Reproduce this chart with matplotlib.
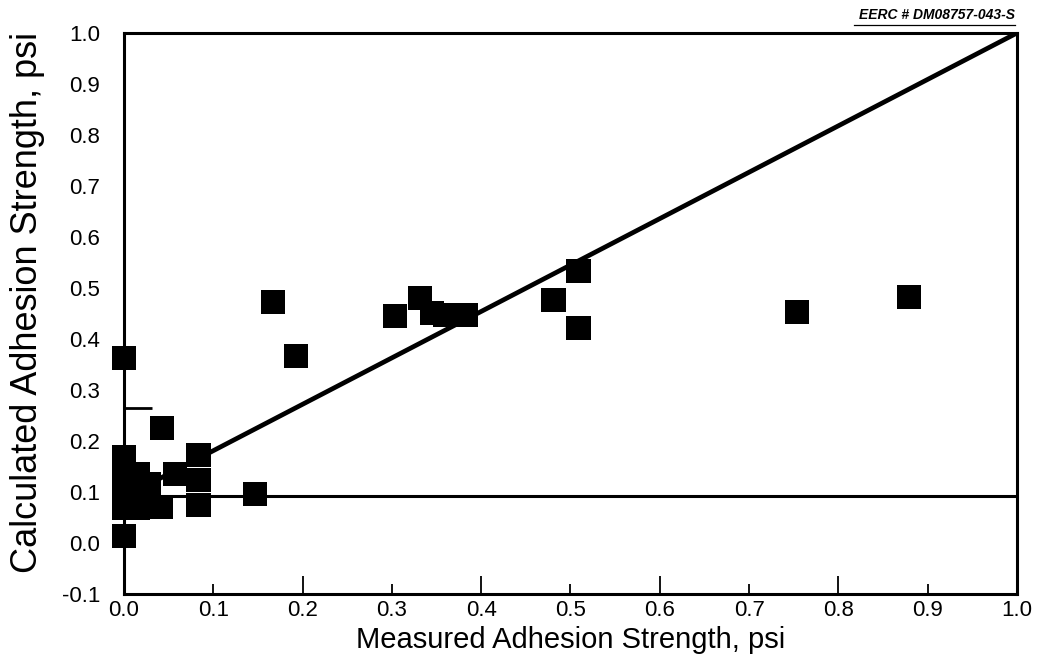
import numpy as np
import matplotlib
matplotlib.use('Agg')
import matplotlib.pyplot as plt
from matplotlib.ticker import FixedLocator, FormatStrFormatter, MultipleLocator, NullFormatter
from matplotlib.lines import Line2D

plt.rcParams['font.family'] = ['Liberation Sans', 'DejaVu Sans']

measured = [0.0, 0.0, 0.043, 0.0, 0.0, 0.0, 0.0, 0.0,
            0.016, 0.016, 0.016, 0.028, 0.028, 0.041, 0.057,
            0.0835, 0.0835, 0.0835, 0.147, 0.167, 0.193,
            0.304, 0.331, 0.345, 0.359, 0.383, 0.481, 0.509, 0.509,
            0.754, 0.879]
calculated = [0.014, 0.363, 0.225, 0.169, 0.145, 0.12, 0.095, 0.069,
              0.135, 0.1, 0.069, 0.116, 0.085, 0.07, 0.135,
              0.173, 0.124, 0.075, 0.096, 0.473, 0.367,
              0.445, 0.480, 0.451, 0.447, 0.447, 0.476, 0.533, 0.422,
              0.453, 0.482]

# droites tracées sur la figure
diag_x = [0.0, 1.0]
diag_y = [0.09, 1.0]
horiz_x = [0.0, 1.0]
horiz_y = [0.092, 0.092]

x_major = [0.0, 0.2, 0.4, 0.6, 0.8, 1.0]
x_minor = [0.1, 0.3, 0.5, 0.7, 0.9]
y_stray = [0.265]   # petit trait isolé sur l'axe y

fig = plt.figure(figsize=(10.39, 6.64), dpi=100)
ax = fig.add_axes([0.1193, 0.1054, 0.8595, 0.8449])

ax.plot(diag_x, diag_y, color='black', lw=3.4, zorder=2, solid_capstyle='butt')
ax.plot(horiz_x, horiz_y, color='black', lw=2.2, zorder=2)
ax.scatter(measured, calculated, marker='s', s=300, color='black',
           edgecolors='none', zorder=3, clip_on=False)

ax.set_xlim(0, 1.0)
ax.set_ylim(-0.1, 1.0)

ax.xaxis.set_major_locator(FixedLocator(x_major))
ax.xaxis.set_minor_locator(FixedLocator(x_minor))
ax.xaxis.set_major_formatter(FormatStrFormatter('%.1f'))
ax.xaxis.set_minor_formatter(FormatStrFormatter('%.1f'))
ax.yaxis.set_major_locator(MultipleLocator(0.1))
ax.yaxis.set_major_formatter(FormatStrFormatter('%.1f'))
ax.yaxis.set_minor_locator(FixedLocator(y_stray))
ax.yaxis.set_minor_formatter(NullFormatter())

ax.tick_params(axis='x', which='major', direction='in', length=13, width=1.3, pad=4, labelsize=16)
ax.tick_params(axis='x', which='minor', direction='in', length=7, width=1.3, pad=4, labelsize=16)
ax.tick_params(axis='y', which='major', direction='in', length=0, width=1.3, pad=17, labelsize=16)
ax.tick_params(axis='y', which='minor', direction='in', length=20, width=2)
for s in ax.spines.values():
    s.set_linewidth(2.2)

ax.set_xlabel('Measured Adhesion Strength, psi', fontsize=21, labelpad=4)
ax.set_ylabel('Calculated Adhesion Strength, psi', fontsize=26)
ax.yaxis.set_label_coords(-0.088, 0.52)

fig.text(0.977, 0.967, 'EERC # DM08757-043-S', ha='right', va='bottom',
         fontsize=10, fontweight='bold', fontstyle='italic')
fig.add_artist(Line2D([0.822, 0.977], [0.963, 0.963], color='black', lw=0.9,
                      transform=fig.transFigure))

plt.savefig('out.png', dpi=100)
